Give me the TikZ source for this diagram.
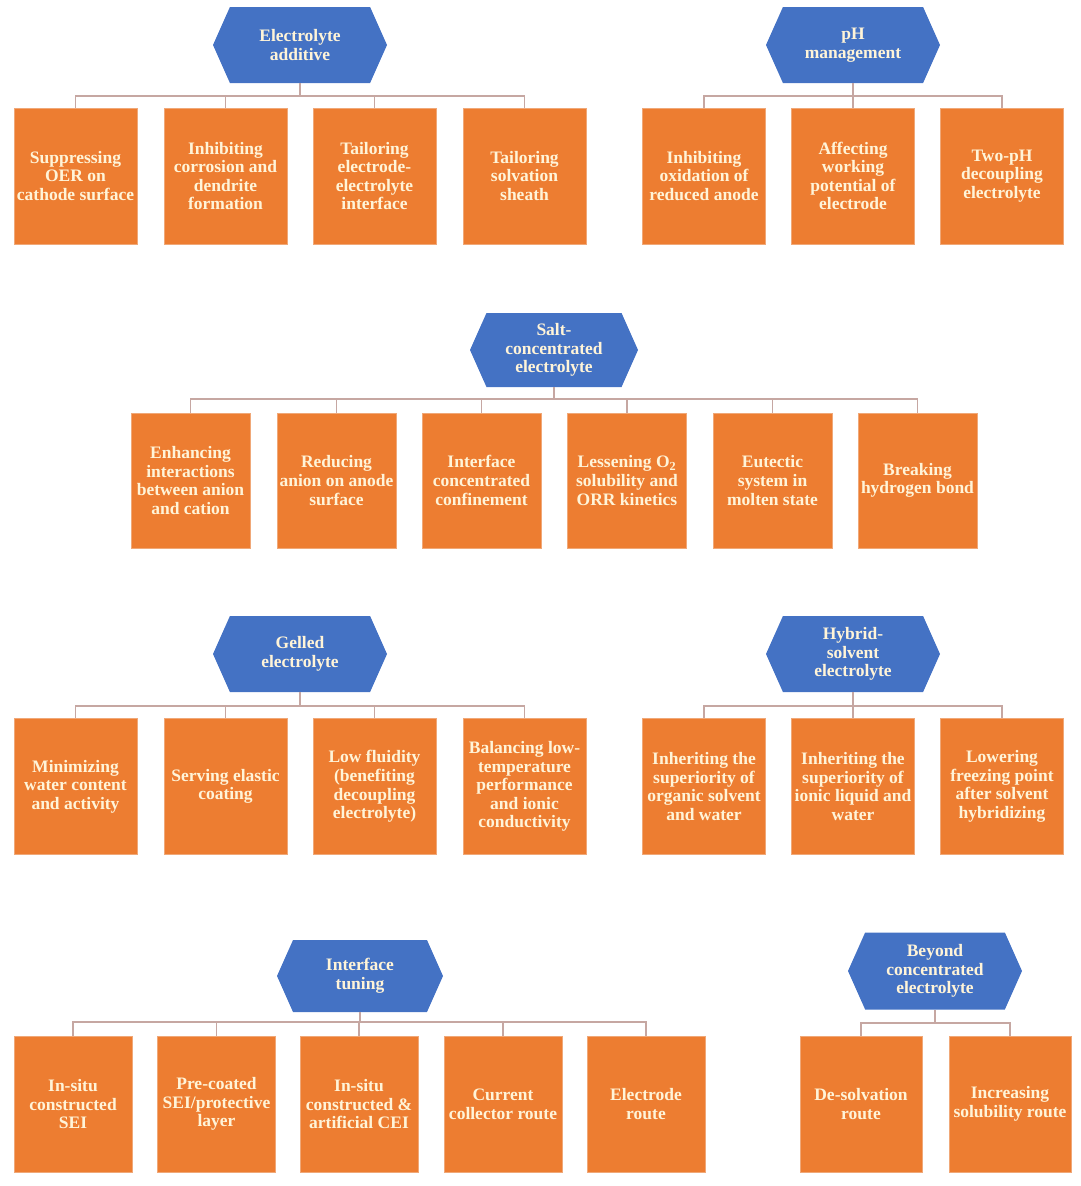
\documentclass[tikz,border=0pt]{standalone}
\usepackage{fontspec}
\setmainfont{Liberation Serif}
\usetikzlibrary{shapes.symbols}

\definecolor{hexblue}{HTML}{4472C4}
\definecolor{boxorange}{HTML}{ED7D31}
\definecolor{boxedge}{HTML}{F0A878}
\definecolor{textcream}{HTML}{FFF4D8}
\definecolor{stemgray}{HTML}{C6A7A2}

\begin{document}
\begin{tikzpicture}[x=1pt, y=-1pt,
    hexa/.style={signal, signal to=east and west, signal pointer angle=132,
        fill=hexblue, text=textcream, align=center, inner sep=0pt,
        font=\bfseries\fontsize{17.5}{18.6}\selectfont,
        minimum width=174pt, minimum height=76pt},
    leaf/.style={rectangle, fill=boxorange, draw=boxedge, line width=1pt,
        text=textcream, align=center, inner sep=0pt,
        font=\bfseries\fontsize{17.5}{18.6}\selectfont,
        minimum width=123pt, minimum height=136pt},
    stem/.style={draw=stemgray, line width=1.2pt}]
    \useasboundingbox (0,0) rectangle (1080,1186);

    % electrolyte additive
    \node[hexa] (ea) at (300,45) {Electrolyte\\additive};
    \node[leaf] (ea1) at (75.5,176) {Suppressing\\OER on\\cathode surface};
    \node[leaf] (ea2) at (225.5,176) {Inhibiting\\corrosion and\\dendrite\\formation};
    \node[leaf] (ea3) at (374.5,176) {Tailoring\\electrode-\\electrolyte\\interface};
    \node[leaf] (ea4) at (524.5,176) {Tailoring\\solvation\\sheath};
    \coordinate (ea-bar) at (300,96);

    % pH management
    \node[hexa] (ph) at (853,45) {pH\\management};
    \node[leaf] (ph1) at (704,176) {Inhibiting\\oxidation of\\reduced anode};
    \node[leaf] (ph2) at (853,176) {Affecting\\working\\potential of\\electrode};
    \node[leaf] (ph3) at (1002,176) {Two-pH\\decoupling\\electrolyte};
    \coordinate (ph-bar) at (853,96);

    % salt-concentrated electrolyte
    \node[hexa, minimum width=168pt, minimum height=74pt] (sc) at (554,350) {Salt-\\concentrated\\electrolyte};
    \node[leaf, minimum width=119pt, minimum height=135pt] (sc1) at (190.5,480.5) {Enhancing\\interactions\\between anion\\and cation};
    \node[leaf, minimum width=119pt, minimum height=135pt] (sc2) at (336.5,480.5) {Reducing\\anion on anode\\surface};
    \node[leaf, minimum width=119pt, minimum height=135pt] (sc3) at (481.5,480.5) {Interface\\concentrated\\confinement};
    \node[leaf, minimum width=119pt, minimum height=135pt] (sc4) at (627,480.5) {Lessening O\textsubscript{2}\\solubility and\\ORR kinetics};
    \node[leaf, minimum width=119pt, minimum height=135pt] (sc5) at (772.5,480.5) {Eutectic\\system in\\molten state};
    \node[leaf, minimum width=119pt, minimum height=135pt] (sc6) at (917.5,480.5) {Breaking\\hydrogen bond};
    \coordinate (sc-bar) at (554,399);

    % gelled electrolyte
    \node[hexa] (ge) at (300,654) {Gelled\\electrolyte};
    \node[leaf] (ge1) at (75.5,786.5) {Minimizing\\water content\\and activity};
    \node[leaf] (ge2) at (225.5,786.5) {Serving elastic\\coating};
    \node[leaf] (ge3) at (374.5,786.5) {Low fluidity\\(benefiting\\decoupling\\electrolyte)};
    \node[leaf] (ge4) at (524.5,786.5) {Balancing low-\\temperature\\performance\\and ionic\\conductivity};
    \coordinate (ge-bar) at (300,706);

    % hybrid-solvent electrolyte
    \node[hexa] (hs) at (853,654) {Hybrid-\\solvent\\electrolyte};
    \node[leaf] (hs1) at (704,786.5) {Inheriting the\\superiority of\\organic solvent\\and water};
    \node[leaf] (hs2) at (853,786.5) {Inheriting the\\superiority of\\ionic liquid and\\water};
    \node[leaf] (hs3) at (1002,786.5) {Lowering\\freezing point\\after solvent\\hybridizing};
    \coordinate (hs-bar) at (853,706);

    % interface tuning
    \node[hexa, minimum width=166pt, minimum height=72pt] (it) at (360,976) {Interface\\tuning};
    \node[leaf, minimum width=118pt] (it1) at (73,1104) {In-situ\\constructed\\SEI};
    \node[leaf, minimum width=118pt] (it2) at (216.5,1104) {Pre-coated\\SEI/protective\\layer};
    \node[leaf, minimum width=118pt] (it3) at (359,1104) {In-situ\\constructed \&\\artificial CEI};
    \node[leaf, minimum width=118pt] (it4) at (503,1104) {Current\\collector route};
    \node[leaf, minimum width=118pt] (it5) at (646,1104) {Electrode\\route};
    \coordinate (it-bar) at (360,1022);

    % beyond concentrated electrolyte
    \node[hexa, minimum height=77pt] (bc) at (935,971) {Beyond\\concentrated\\electrolyte};
    \node[leaf, minimum width=122pt] (bc1) at (861,1104) {De-solvation\\route};
    \node[leaf, minimum width=122pt] (bc2) at (1010,1104) {Increasing\\solubility route};
    \coordinate (bc-bar) at (935,1023);

    \draw[stem] (ea) -- (ea-bar);
    \foreach \i in {1,...,4} \draw[stem] (ea-bar) -| (ea\i);
    \draw[stem] (ph) -- (ph-bar);
    \foreach \i in {1,...,3} \draw[stem] (ph-bar) -| (ph\i);
    \draw[stem] (sc) -- (sc-bar);
    \foreach \i in {1,...,6} \draw[stem] (sc-bar) -| (sc\i);
    \draw[stem] (ge) -- (ge-bar);
    \foreach \i in {1,...,4} \draw[stem] (ge-bar) -| (ge\i);
    \draw[stem] (hs) -- (hs-bar);
    \foreach \i in {1,...,3} \draw[stem] (hs-bar) -| (hs\i);
    \draw[stem] (it) -- (it-bar);
    \foreach \i in {1,...,5} \draw[stem] (it-bar) -| (it\i);
    \draw[stem] (bc) -- (bc-bar);
    \foreach \i in {1,...,2} \draw[stem] (bc-bar) -| (bc\i);
\end{tikzpicture}
\end{document}
